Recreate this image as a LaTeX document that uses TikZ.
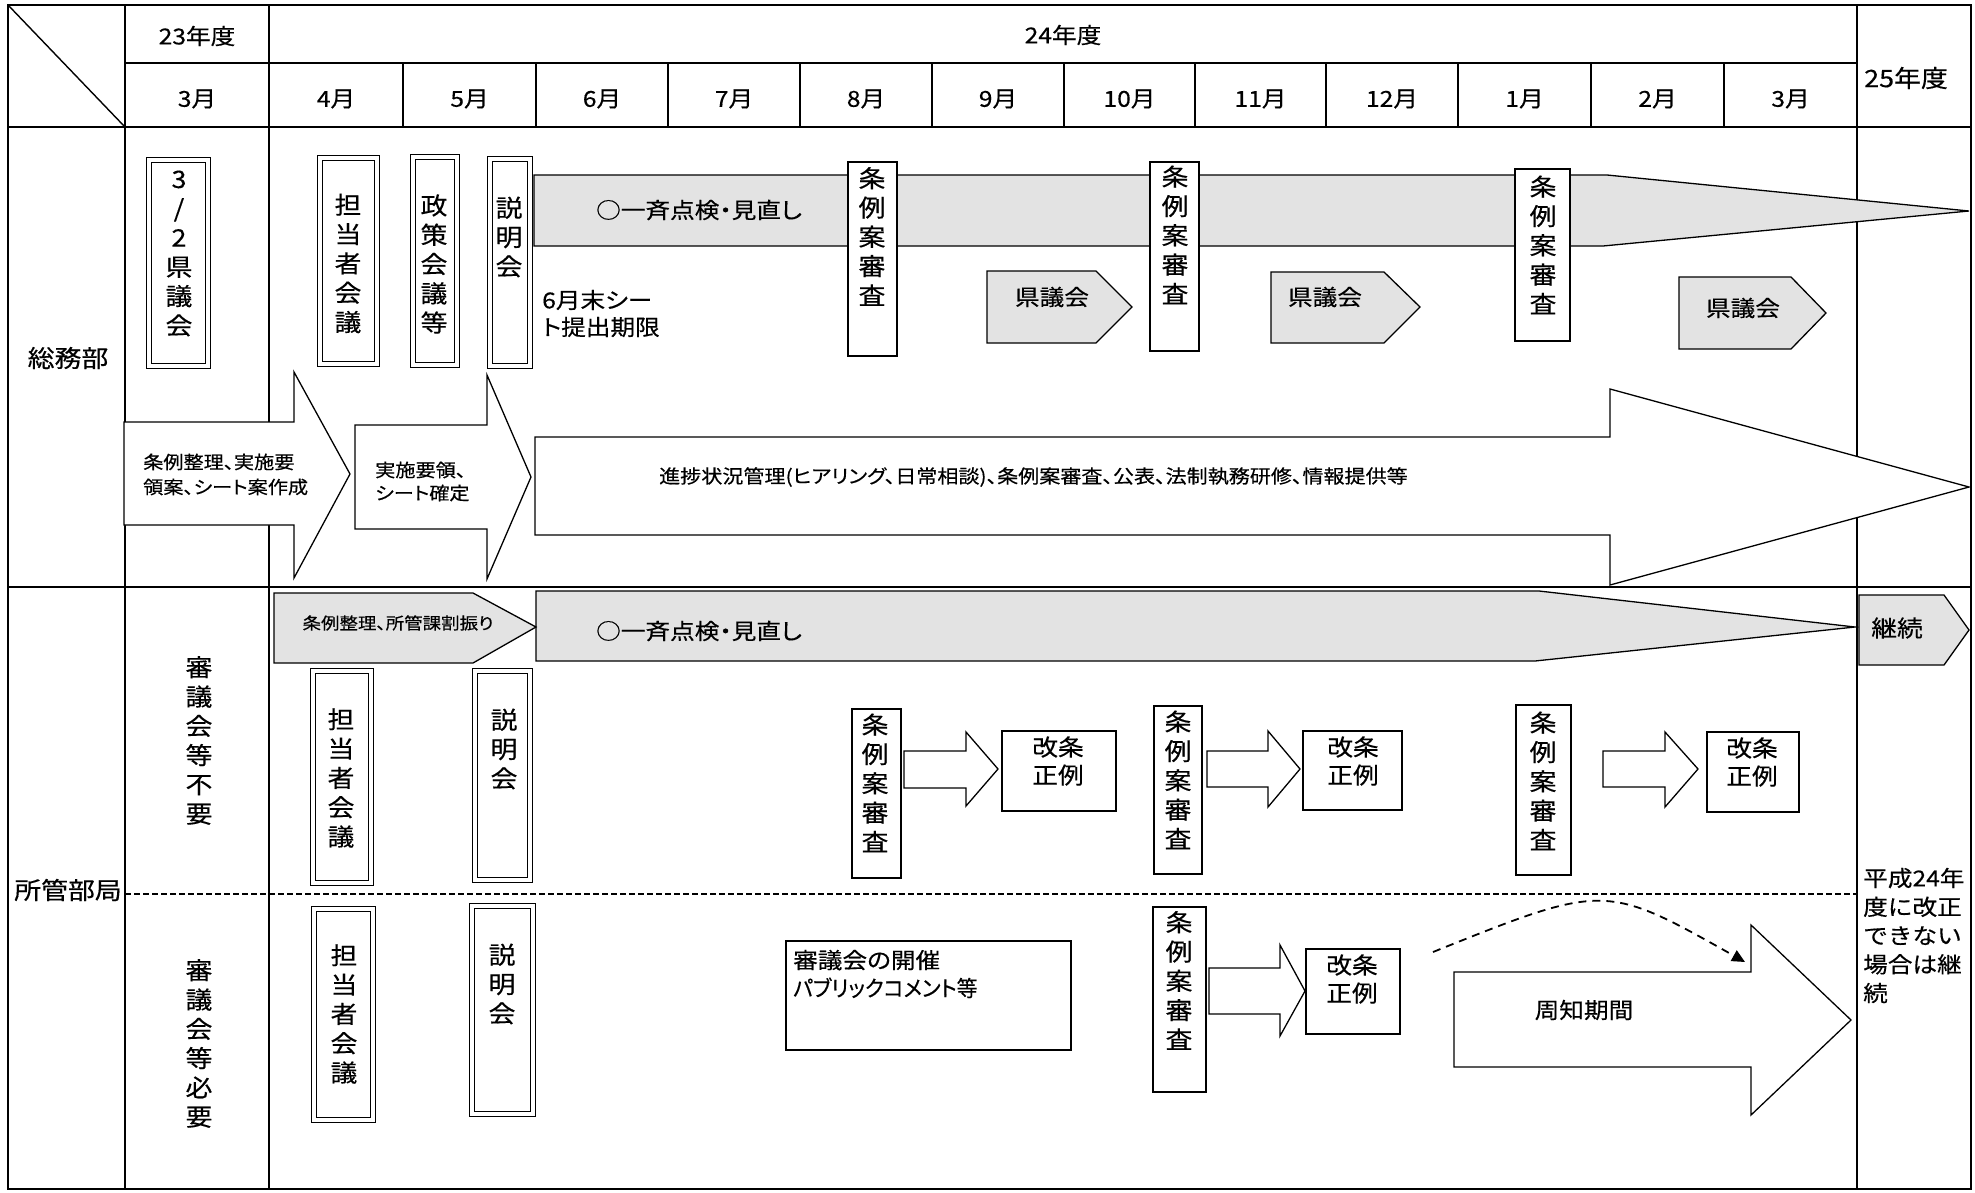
\documentclass[tikz,border=0pt]{standalone}
\usepackage{fontspec}
\setmainfont{Noto Sans CJK JP}[FakeStretch=1.12,FakeBold=0.4]
\newfontfamily\propfont{Noto Sans CJK JP}[FakeStretch=1.12,FakeBold=0.4,RawFeature=+palt]
\usetikzlibrary{arrows.meta}
\begin{document}
\begin{tikzpicture}[x=1pt,y=-1pt,
  tline/.style={line width=1.4pt},
  vt/.style={align=center, inner sep=0pt, font=\fontsize{24}{29.3}\selectfont},
  ht/.style={inner sep=0pt, font=\fontsize{22}{28}\selectfont},
  st/.style={inner sep=0pt, align=left, font=\propfont\fontsize{18}{25}\selectfont},
  dbox/.style={draw, double, double distance=3.6pt, line width=1.1pt, fill=white, inner sep=0pt},
  sbox/.style={draw, line width=1.3pt, fill=white, inner sep=0pt},
  gshape/.style={draw, line width=1.3pt, fill=gray!22},
  wshape/.style={draw, line width=1.3pt, fill=white},
  dasharrow/.style={line width=1.8pt, dash pattern=on 8pt off 6pt, -{Triangle[length=13pt,width=12pt]}}
]
\useasboundingbox (0,0) rectangle (1975,1192);
\fill[white] (0,0) rectangle (1975,1192);

% ---------- table ----------
\draw[tline] (8,5) rectangle (1971,1189);
\draw[tline] (8,127) -- (1971,127);
\draw[tline] (8,587) -- (1971,587);
\draw[tline] (125,63) -- (1857,63);
\draw[tline] (8,5) -- (125,127);
\draw[tline] (125,5) -- (125,1189);
\draw[tline] (269,5) -- (269,1189);
\draw[tline] (1857,5) -- (1857,1189);
\foreach \xx in {403,536,668,800,932,1064,1195,1326,1458,1591,1724}
  \draw[tline] (\xx,63) -- (\xx,127);
\draw[line width=1.6pt, dash pattern=on 6pt off 3pt] (125,894) -- (1857,894);

% ---------- header texts ----------
\node[ht] (y23) at (197,36) {23年度};
\node[ht] (y24) at (1063,35) {24年度};
\node[ht, font=\fontsize{24}{28}\selectfont] (y25) at (1906,78) {25年度};
\foreach \xx/\mm/\nn in {197/3月/m3a,336/4月/m4,469.5/5月/m5,602/6月/m6,734/7月/m7,866/8月/m8,998/9月/m9,1129.5/10月/m10,1260.5/11月/m11,1392/12月/m12,1524.5/1月/m1,1657.5/2月/m2,1790.5/3月/m3b}
  \node[ht] (\nn) at (\xx,99) {\mm};

% ---------- section labels ----------
\node[ht, font=\fontsize{24}{28}\selectfont] (somu) at (68,358) {総務部};
\node[ht, font=\fontsize{24}{28}\selectfont] (shokan) at (68,890) {所管部局};
\node[vt] (fuyo) at (199,740.5) {審\\議\\会\\等\\不\\要};
\node[vt] (hitsuyo) at (199,1043.5) {審\\議\\会\\等\\必\\要};

% ---------- grey banners ----------
\draw[gshape] (534,175) -- (1607,175) -- (1969,211) -- (1603,246) -- (534,246) -- cycle;
\draw[gshape] (536,591) -- (1539,591) -- (1855,627) -- (1535,661) -- (536,661) -- cycle;
\node[ht, font=\propfont\fontsize{22}{28}\selectfont] (ten1) [anchor=west] at (596,210) {○一斉点検・見直し};
\node[ht, font=\propfont\fontsize{22}{28}\selectfont] (ten2) [anchor=west] at (596,631) {○一斉点検・見直し};

% ---------- white block arrows (総務部) ----------
\draw[wshape] (124,422) -- (294,422) -- (294,372) -- (350,474) -- (294,578) -- (294,525) -- (124,525) -- cycle;
\draw[wshape] (355,425) -- (487,425) -- (487,375) -- (531,477) -- (487,579) -- (487,529) -- (355,529) -- cycle;
\draw[wshape] (535,437) -- (1610,437) -- (1610,389) -- (1969,487) -- (1610,585) -- (1610,535) -- (535,535) -- cycle;
\node[st] (a1t) [anchor=west] at (143,474.5) {条例整理、実施要\\領案、シート案作成};
\node[st, font=\propfont\fontsize{18}{23}\selectfont] (a2t) [anchor=west] at (375,481.5) {実施要領、\\シート確定};
\node[st, font=\propfont\fontsize{18.8}{25}\selectfont] (a3t) [anchor=west] at (659,477) {進捗状況管理(ヒアリング、日常相談)、条例案審査、公表、法制執務研修、情報提供等};

% ---------- grey pentagons ----------
\draw[gshape] (987,271) -- (1096,271) -- (1132,307) -- (1096,343) -- (987,343) -- cycle;
\draw[gshape] (1271,272) -- (1384,272) -- (1420,307) -- (1384,343) -- (1271,343) -- cycle;
\draw[gshape] (1679,277) -- (1791,277) -- (1826,313) -- (1791,349) -- (1679,349) -- cycle;
\draw[gshape] (274,593) -- (473,593) -- (536,627) -- (473,663) -- (274,663) -- cycle;
\draw[gshape] (1859,595) -- (1944,595) -- (1969,630) -- (1944,665) -- (1859,665) -- cycle;
\node[ht] (ken1) at (1052,297) {県議会};
\node[ht] (ken2) at (1325,297) {県議会};
\node[ht] (ken3) at (1743,308) {県議会};
\node[st, font=\propfont\fontsize{16.5}{25}\selectfont] (wari) at (398,623) {条例整理、所管課割振り};
\node[ht, font=\fontsize{23}{28}\selectfont] (keizoku) at (1897,628) {継続};

% ---------- boxes: 総務部 ----------
\node[dbox, minimum width=59pt, minimum height=206pt] (kgk) at (178.5,263) {};
\node[dbox, minimum width=57pt, minimum height=206pt] (tt1) at (348.5,261) {};
\node[dbox, minimum width=44pt, minimum height=208pt] (ss) at (435,261) {};
\node[dbox, minimum width=40pt, minimum height=207pt] (sm1) at (510,262.5) {};
\node[sbox, minimum width=49pt, minimum height=194pt] (jr1) at (872.5,259) {};
\node[sbox, minimum width=49pt, minimum height=189pt] (jr2) at (1174.5,256.5) {};
\node[sbox, minimum width=55pt, minimum height=172pt] (jr3) at (1542.5,255) {};
\node[vt] (kgkt) at (179,253.5) {3\\/\\2\\県\\議\\会};
\node[vt] (tt1t) at (348,263.5) {担\\当\\者\\会\\議};
\node[vt] (sst) at (434,264) {政\\策\\会\\議\\等};
\node[vt] (sm1t) at (509,237) {説\\明\\会};
\node[vt] (jr1t) at (872,236.5) {条\\例\\案\\審\\査};
\node[vt] (jr2t) at (1175,235) {条\\例\\案\\審\\査};
\node[vt] (jr3t) at (1543,245) {条\\例\\案\\審\\査};
\node[ht, align=left, font=\propfont\fontsize{22}{27}\selectfont] (deadline) [anchor=west] at (542,313.5) {6月末シー\\ト提出期限};

% ---------- boxes: 審議会等不要 ----------
\node[dbox, minimum width=58pt, minimum height=212pt] (tt2) at (342,777) {};
\node[dbox, minimum width=55pt, minimum height=209pt] (sm2) at (502.5,775.5) {};
\node[sbox, minimum width=49pt, minimum height=169pt] (jr4) at (876.5,793.5) {};
\node[sbox, minimum width=48pt, minimum height=168pt] (jr5) at (1178,790) {};
\node[sbox, minimum width=55pt, minimum height=170pt] (jr6) at (1543.5,790) {};
\node[sbox, minimum width=114pt, minimum height=80pt] (kj1) at (1059,771) {};
\node[sbox, minimum width=99pt, minimum height=79pt] (kj2) at (1352.5,770.5) {};
\node[sbox, minimum width=92pt, minimum height=80pt] (kj3) at (1753,772) {};
\node[vt] (tt2t) at (341,778) {担\\当\\者\\会\\議};
\node[vt] (sm2t) at (504,749) {説\\明\\会};
\node[vt] (jr4t) at (875,783) {条\\例\\案\\審\\査};
\node[vt] (jr5t) at (1178,780) {条\\例\\案\\審\\査};
\node[vt] (jr6t) at (1543,781) {条\\例\\案\\審\\査};
\node[vt, font=\fontsize{23}{28}\selectfont] (kj1t) at (1058,761) {改条\\正例};
\node[vt, font=\fontsize{23}{28}\selectfont] (kj2t) at (1353,761) {改条\\正例};
\node[vt, font=\fontsize{23}{28}\selectfont] (kj3t) at (1752,762) {改条\\正例};
\draw[wshape] (904,751) -- (966,751) -- (966,732) -- (998,769) -- (966,806) -- (966,788) -- (904,788) -- cycle;
\draw[wshape] (1207,751) -- (1268,751) -- (1268,731) -- (1300,769) -- (1268,807) -- (1268,787) -- (1207,787) -- cycle;
\draw[wshape] (1603,751) -- (1665,751) -- (1665,732) -- (1698,769) -- (1665,807) -- (1665,787) -- (1603,787) -- cycle;

% ---------- boxes: 審議会等必要 ----------
\node[dbox, minimum width=59pt, minimum height=211pt] (tt3) at (343.5,1014.5) {};
\node[dbox, minimum width=61pt, minimum height=208pt] (sm3) at (502.5,1010) {};
\node[sbox, minimum width=285pt, minimum height=109pt] (sg) at (928.5,995.5) {};
\node[sbox, minimum width=53pt, minimum height=185pt] (jr7) at (1179.5,999.5) {};
\node[sbox, minimum width=94pt, minimum height=85pt] (kj4) at (1353,991.5) {};
\node[vt] (tt3t) at (344,1014) {担\\当\\者\\会\\議};
\node[vt] (sm3t) at (502,984) {説\\明\\会};
\node[vt] (jr7t) at (1179,980.5) {条\\例\\案\\審\\査};
\node[vt, font=\fontsize{23}{28}\selectfont] (kj4t) at (1352,979) {改条\\正例};
\node[ht, align=left, font=\propfont\fontsize{22}{28}\selectfont] (sgt) [anchor=west] at (793,974) {審議会の開催\\\scalebox{0.85}[1]{パブリックコメント等}};
\draw[wshape] (1209,968) -- (1280,968) -- (1280,945) -- (1305,991) -- (1280,1036) -- (1280,1014) -- (1209,1014) -- cycle;
\draw[wshape] (1454,972) -- (1751,972) -- (1751,925) -- (1851,1020) -- (1751,1115) -- (1751,1067) -- (1454,1067) -- cycle;
\node[ht] (shuchi) at (1584,1010) {周知期間};
\coordinate (ds) at (1433,952);
\coordinate (de) at (1745,962);
\draw[dasharrow] (ds) .. controls (1605,883) .. (de);

% ---------- 25年度 note ----------
\node[ht, align=left, font=\fontsize{22}{28.75}\selectfont] (note) [anchor=west] at (1863,935.5) {平成24年\\度に改正\\できない\\場合は継\\続};
\end{tikzpicture}
\end{document}
